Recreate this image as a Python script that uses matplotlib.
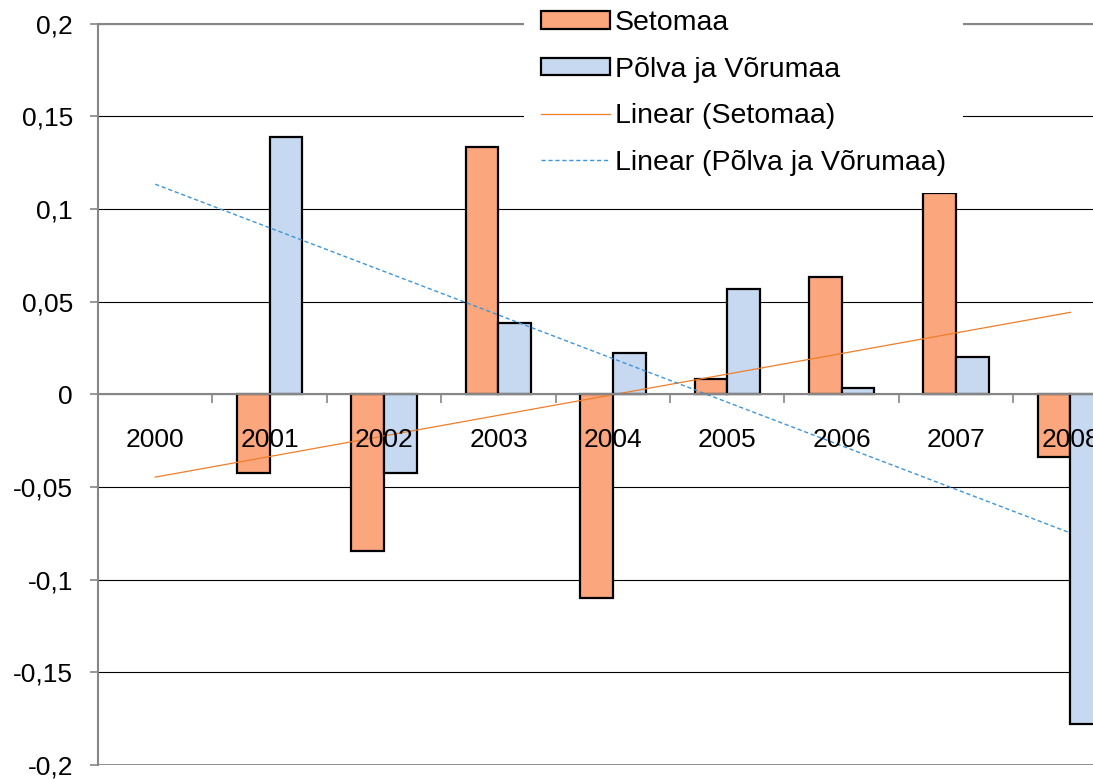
import numpy as np
import matplotlib
matplotlib.use("Agg")
import matplotlib.pyplot as plt
from matplotlib.ticker import FuncFormatter

plt.rcParams['font.family'] = ['Liberation Sans', 'DejaVu Sans']

# data (2000 has no value)
years = ['2000', '2001', '2002', '2003', '2004', '2005', '2006', '2007', '2008']
setomaa = [np.nan, -0.0425, -0.0847, 0.1334, -0.1097, 0.0082, 0.0633, 0.1086, -0.0340]
polva = [np.nan, 0.1388, -0.0423, 0.0385, 0.0224, 0.0569, 0.0035, 0.0202, -0.1780]
yticks = [-0.2, -0.15, -0.1, -0.05, 0, 0.05, 0.1, 0.15, 0.2]

c_seto = '#FBA67C'
c_polva = '#C6D9F1'
c_seto_line = '#EE7E2A'
c_polva_line = '#3D95D8'
gray = '#868686'

fig = plt.figure(figsize=(10.93, 7.8), dpi=100)
# plot area runs past the right edge, like the cropped original
ax = fig.add_axes([0.0897, 0.0192, 0.942, 0.9506])

x = np.arange(len(years))
w = 0.286
b1 = ax.bar(x - w / 2, setomaa, w, color=c_seto, edgecolor='black', linewidth=1.6,
            label='Setomaa', zorder=1)
b2 = ax.bar(x + w / 2, polva, w, color=c_polva, edgecolor='black', linewidth=1.6,
            label='Põlva ja Võrumaa', zorder=1)

# Excel style linear trend lines (fitted on the years with data)
def trend(vals):
    v = np.array(vals)
    ok = ~np.isnan(v)
    k, b = np.polyfit(x[ok] + 1, v[ok], 1)
    return k * (x + 1) + b

l1, = ax.plot(x, trend(setomaa), color=c_seto_line, lw=0.9, label='Linear (Setomaa)', zorder=2)
l2, = ax.plot(x, trend(polva), color=c_polva_line, lw=1.0, ls=(0, (3, 2)),
              label='Linear (Põlva ja Võrumaa)', zorder=2)

ax.set_xlim(-0.5, len(years) - 0.5)
ax.set_ylim(-0.2, 0.2)

# gridlines
ax.set_yticks(yticks)
ax.yaxis.grid(True, color='black', lw=0.8)
ax.set_axisbelow(True)
ax.xaxis.set_zorder(3)
ax.yaxis.set_major_formatter(FuncFormatter(lambda v, p: f'{v:g}'.replace('.', ',')))
ax.tick_params(axis='y', direction='out', length=6, width=1.2, color=gray,
               labelsize=19, pad=12)

ax.set_xticks(x)
ax.set_xticklabels(years)
ax.set_xticks(np.arange(len(years) + 1) - 0.5, minor=True)
ax.tick_params(axis='x', which='major', length=0, labelsize=19, pad=24)
ax.tick_params(axis='x', which='minor', direction='out', length=6.5, width=1.2, color=gray)

for s in ['left', 'top', 'bottom']:
    ax.spines[s].set_color(gray)
    ax.spines[s].set_linewidth(1.5)
ax.spines['right'].set_visible(False)
ax.spines['bottom'].set_position(('data', 0))
ax.axhline(ax.get_ylim()[0], color=gray, lw=2, zorder=0.6)

leg = ax.legend([b1, b2, l1, l2],
                ['Setomaa', 'Põlva ja Võrumaa', 'Linear (Setomaa)', 'Linear (Põlva ja Võrumaa)'],
                loc='upper left', bbox_to_anchor=(0.4794, 1.009), bbox_transform=fig.transFigure,
                fontsize=20.5, frameon=True, fancybox=False, edgecolor='none',
                facecolor='white', framealpha=1, borderpad=0.6, borderaxespad=0,
                handlelength=2.42, handleheight=0.58, handletextpad=0.18,
                labelspacing=0.72)
leg.set_zorder(5)

fig.savefig('out.png', dpi=100)
